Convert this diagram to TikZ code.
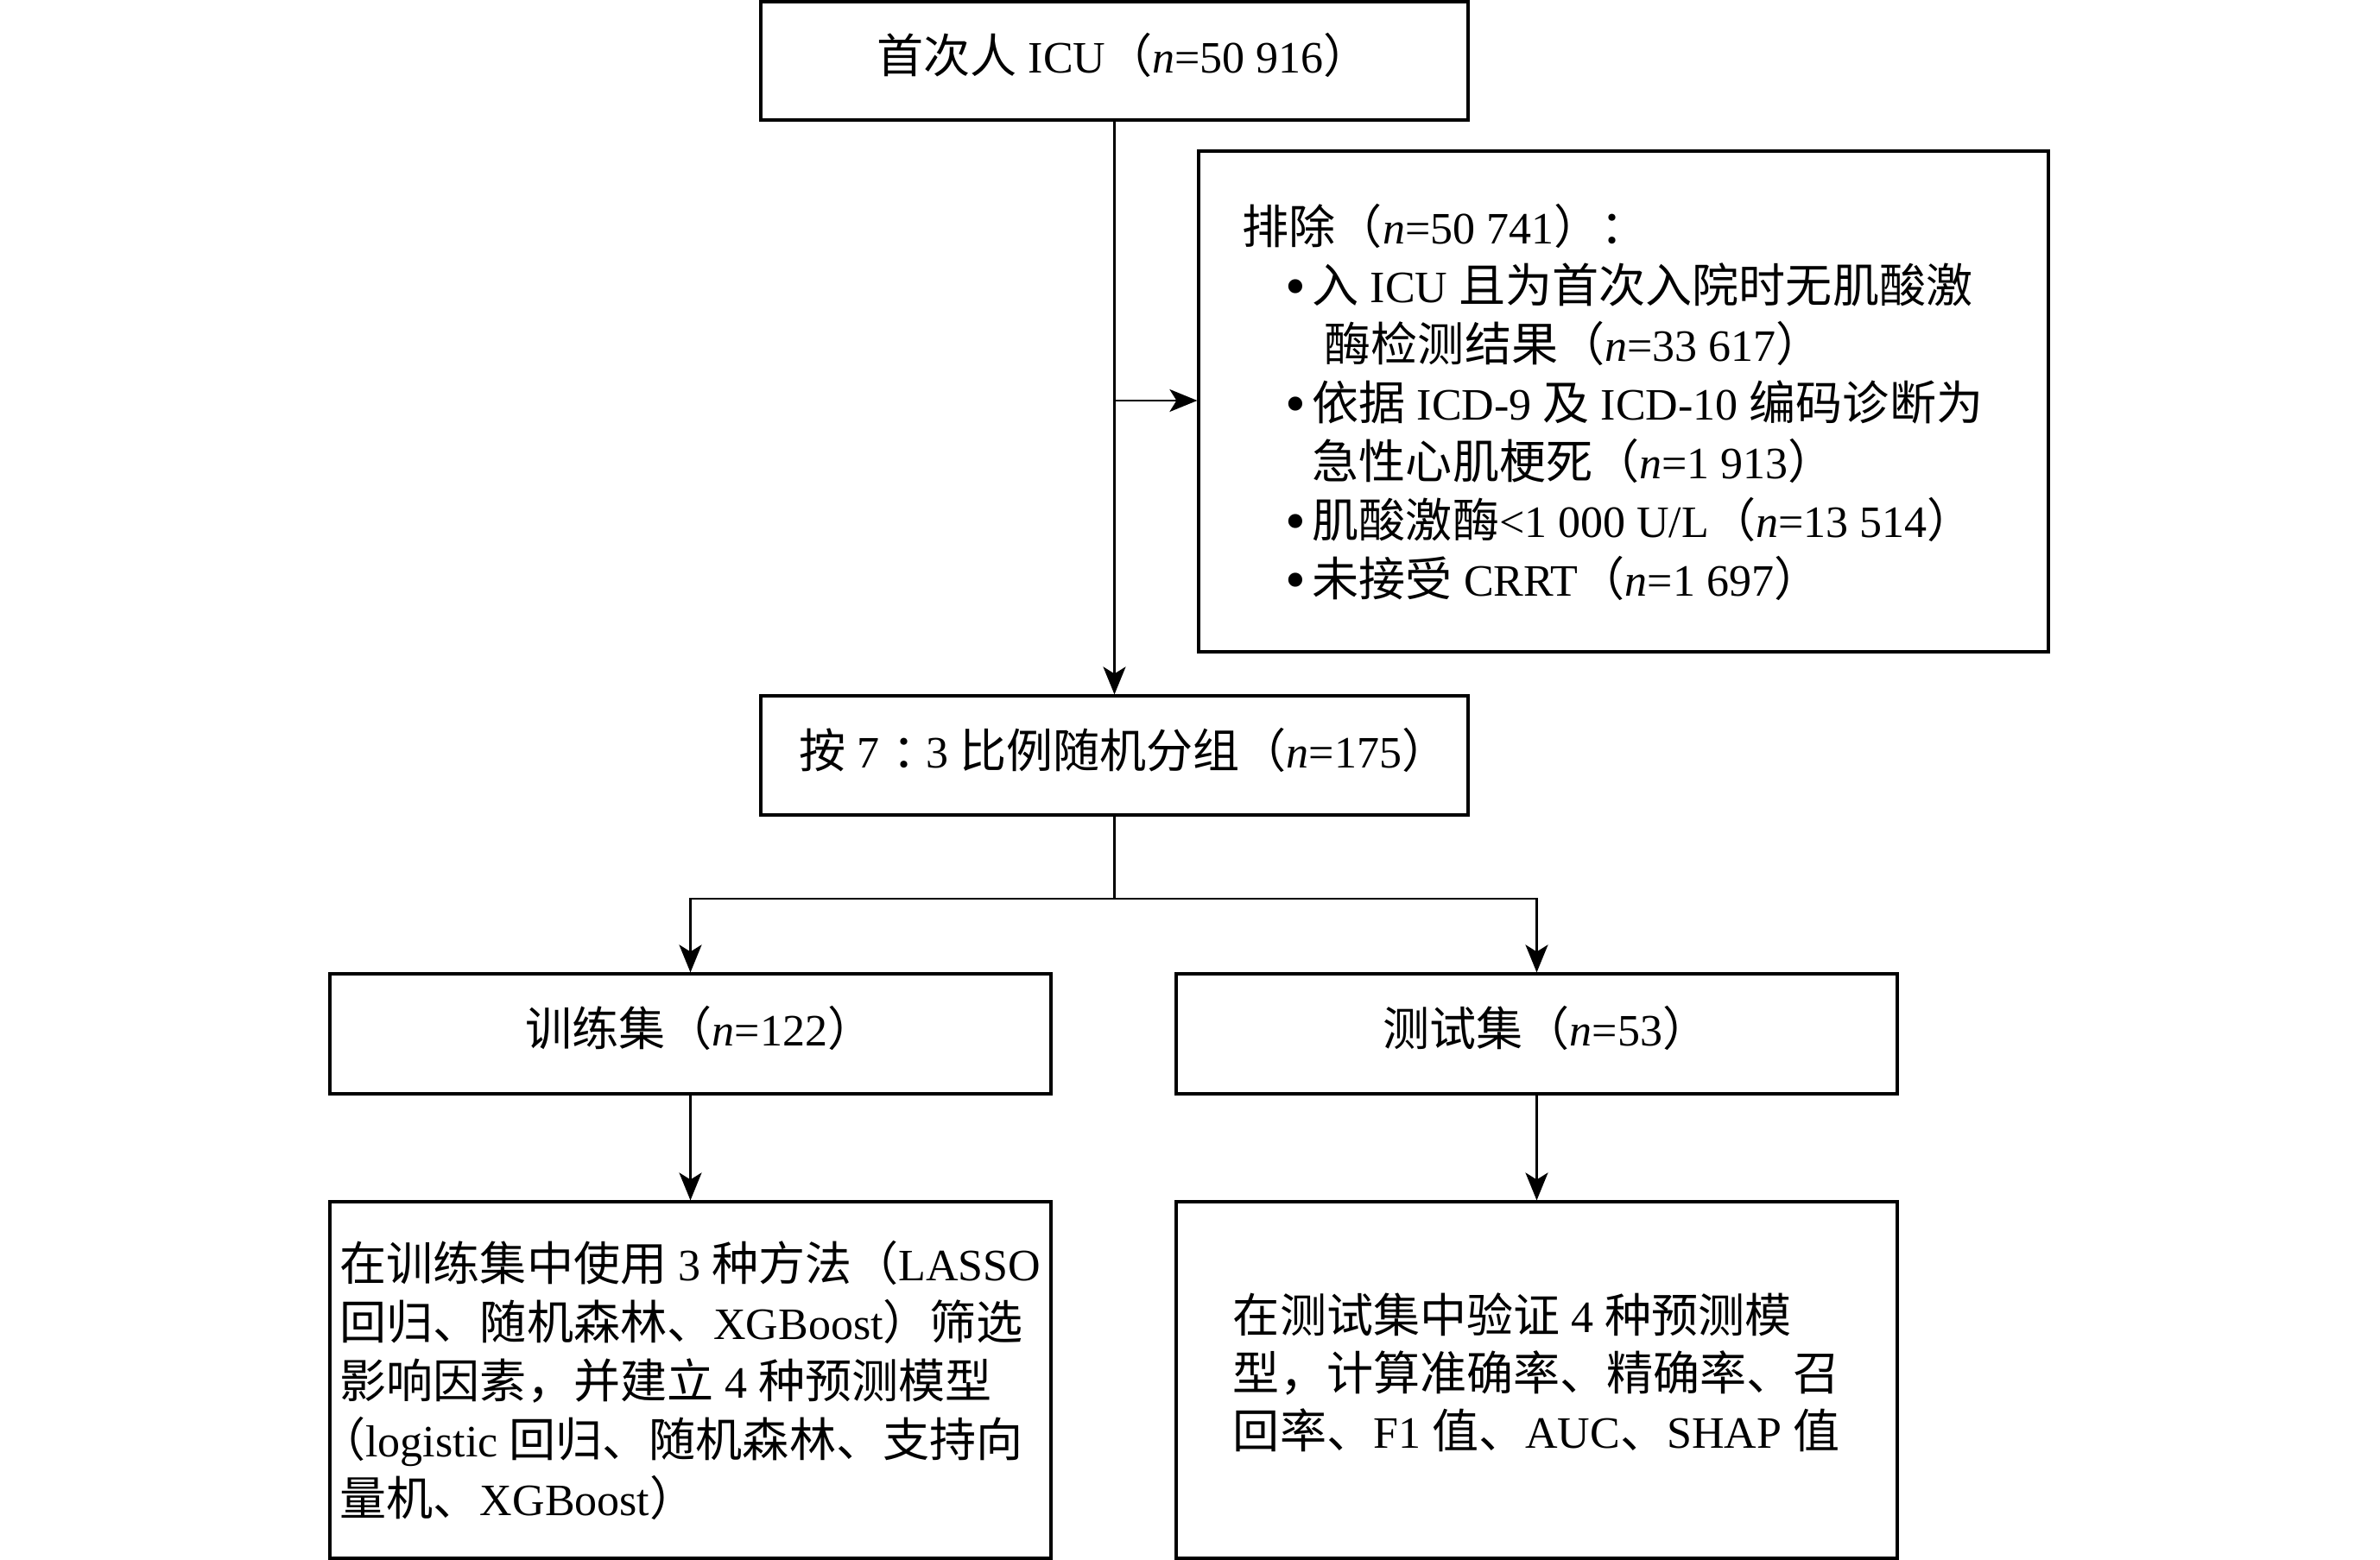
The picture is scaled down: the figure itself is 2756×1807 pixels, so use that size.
\documentclass[tikz,border=0pt]{standalone}
\usepackage{fontspec}
\setmainfont{Liberation Serif}
\newfontfamily\zhfont{Noto Sans CJK SC}[Scale=1.04]
\usetikzlibrary{arrows.meta}
\newcommand{\zh}[1]{{\zhfont #1}}
\newcommand{\nv}{\textit{n}}
\newcommand{\bul}{\makebox[31\pxu][l]{{\fontsize{17pt}{17pt}\selectfont\raisebox{-0.06em}{•}}}}
\newdimen\pxu \pxu=0.25pt
\begin{document}
\begin{tikzpicture}[x=0.25pt,y=-0.25pt,
  box/.style={draw, line width=0.8pt, inner sep=0pt, align=center},
  one/.style={text height=10.2pt, text depth=3pt},
  conn/.style={line width=0.7pt},
  arr/.style={conn, -{Stealth[length=8pt,width=6.5pt,inset=2pt]}},
  font=\fontsize{13pt}{17pt}\selectfont]
\useasboundingbox (0,0) rectangle (2756,1807);

\node[box, one, minimum width=204.75pt, minimum height=34.25pt] (top) at (1290.5,70.5)
  {\zh{首次人} ICU\zh{（}\nv=50~916\zh{）\kern-0.4em}};

\node[box, minimum width=246pt, minimum height=145pt] (excl) at (1880,465) {};
\node[anchor=west, align=left, inner sep=0pt, font=\fontsize{13pt}{17pt}\selectfont] (excltext) at (1438,466)
  {\zh{排除（}\nv=50~741\zh{）：}\\
   \hspace*{50\pxu}\bul\zh{入} ICU \zh{且为首次入院时无肌酸激}\\
   \hspace*{95\pxu}\zh{酶检测结果（}\nv=33~617\zh{）}\\
   \hspace*{50\pxu}\bul\zh{依据} ICD-9 \zh{及} ICD-10 \zh{编码诊断为}\\
   \hspace*{81\pxu}\zh{急性心肌梗死（}\nv=1~913\zh{）}\\
   \hspace*{50\pxu}\bul\zh{肌酸激酶}<1~000 U/L\zh{（}\nv=13~514\zh{）}\\
   \hspace*{50\pxu}\bul\zh{未接受} CRRT\zh{（}\nv=1~697\zh{）}};

\node[box, one, minimum width=204.75pt, minimum height=34.5pt] (mid) at (1290.5,875)
  {\zh{按} 7\zh{\kern0.28em：\kern-0.28em}3 \zh{比例随机分组（}\nv=175\zh{）\kern-0.4em}};

\node[box, one, minimum width=208.75pt, minimum height=34.75pt] (train) at (799.5,1197.5)
  {\zh{训练集（}\nv=122\zh{）\kern-0.4em}};
\node[box, one, minimum width=208.75pt, minimum height=34.75pt] (test) at (1779.5,1197.5)
  {\zh{测试集（}\nv=53\zh{）\kern-0.4em}};

\node[box, minimum width=208.75pt, minimum height=103.25pt, align=left] (bl) at (799.5,1598.5)
  {\zh{在训练集中使用} 3 \zh{种方法（}LASSO\\
   \zh{回归、随机森林、}XGBoost\zh{）筛选}\\
   \zh{影响因素，并建立} 4 \zh{种预测模型}\\
   \zh{\hspace*{-0.45em}（}logistic \zh{回归、随机森林、支持向}\\
   \zh{量机、}XGBoost\zh{）}};
\node[box, minimum width=208.75pt, minimum height=103.25pt] (br) at (1779.5,1598.5) {};
\node[align=left, inner sep=0pt, font=\fontsize{13pt}{16.8pt}\selectfont] (brtext) at (1779.5,1590)
  {\zh{在测试集中验证} 4 \zh{种预测模}\\
   \zh{型，计算准确率、精确率、召}\\
   \zh{回率、}F1 \zh{值、}AUC\zh{、}SHAP \zh{值}};

\coordinate (j) at (1290.5,464);
\coordinate (s) at (1290.5,1041);
\draw[arr] (top.south) -- (mid.north);
\draw[arr] (j) -- (j -| excl.west);
\draw[conn] (mid.south) -- (s);
\draw[arr] (s) -| (train.north);
\draw[arr] (s) -| (test.north);
\draw[arr] (train.south) -- (bl.north);
\draw[arr] (test.south) -- (br.north);
\end{tikzpicture}
\end{document}
